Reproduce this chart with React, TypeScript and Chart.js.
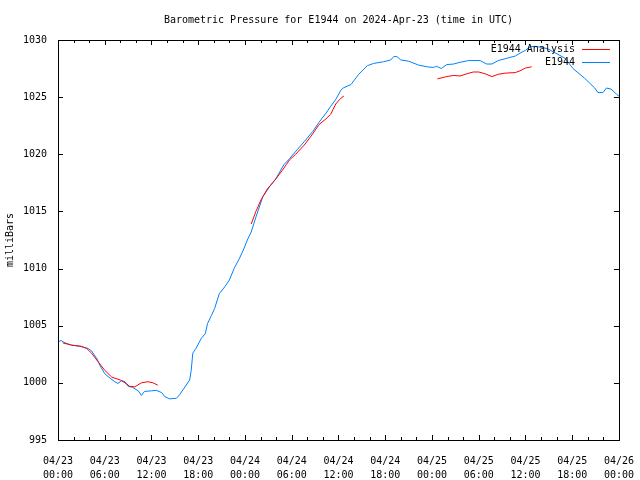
import React, { useEffect, useRef } from "react";
import { Chart, registerables } from "chart.js";

Chart.register(...registerables);

const chartTitle = "Barometric Pressure for E1944 on 2024-Apr-23 (time in UTC)";
const yAxisTitle = "milliBars";
const seriesLabels = ["E1944 Analysis", "E1944"];

const tickDates = ["04/23", "04/23", "04/23", "04/23", "04/24", "04/24", "04/24", "04/24", "04/25", "04/25", "04/25", "04/25", "04/26"];
const tickTimes = ["00:00", "06:00", "12:00", "18:00", "00:00", "06:00", "12:00", "18:00", "00:00", "06:00", "12:00", "18:00", "00:00"];

// hours since 2024-04-23 00:00 UTC
const obsHours = [
  0, 0.4, 0.9, 1.75, 2.8, 3.9, 4.3, 5.0, 5.4, 6.0, 6.7, 7.3, 7.7, 8.15, 8.6, 9.0, 9.6, 10.3, 10.7, 11.1,
  12.0, 12.6, 13.3, 13.7, 14.3, 15.2, 15.6, 16.2, 16.9, 17.1, 17.3, 17.7, 18.4, 18.9, 19.2, 19.7, 20.1, 20.7,
  21.4, 22.0, 22.6, 23.3, 23.9, 24.3, 24.8, 25.4, 26.3, 27.2, 28.0, 29.0, 29.7, 30.7, 31.6, 32.7, 33.5, 34.4,
  35.0, 35.65, 36.3, 36.6, 37.6, 38.6, 39.7, 40.5, 41.8, 42.7, 43.1, 43.5, 44.0, 45.0, 46.3, 47.4, 48.2, 48.6,
  49.2, 49.9, 50.8, 51.6, 52.7, 54.2, 55.0, 55.7, 56.5, 57.6, 58.7, 59.3, 60.0, 60.6, 61.2, 62.1, 62.8, 65.1,
  66.1, 67.6, 68.9, 69.3, 69.95, 70.4, 71.0, 71.7, 72.0
];
const obsPressure = [
  1003.6, 1003.7, 1003.5, 1003.3, 1003.2, 1003.0, 1002.8, 1002.1, 1001.5, 1000.8, 1000.4, 1000.1, 999.95, 1000.2, 1000.1, 999.7, 999.6, 999.3, 998.9, 999.25,
  999.3, 999.35, 999.15, 998.8, 998.6, 998.65, 998.95, 999.55, 1000.25, 1001.1, 1002.6, 1003.0, 1003.9, 1004.3, 1005.2, 1005.9, 1006.5, 1007.8,
  1008.4, 1009.0, 1010.0, 1010.9, 1011.8, 1012.5, 1013.2, 1014.5, 1016.3, 1017.2, 1017.9, 1019.1, 1019.6, 1020.4, 1021.1, 1022.0, 1022.8, 1023.6,
  1024.2, 1024.8, 1025.6, 1025.8, 1026.1, 1027.0, 1027.75, 1027.95, 1028.1, 1028.25, 1028.55, 1028.55, 1028.25, 1028.15, 1027.8, 1027.65, 1027.6, 1027.7,
  1027.5, 1027.85, 1027.9, 1028.05, 1028.2, 1028.2, 1027.9, 1027.9, 1028.2, 1028.4, 1028.6, 1028.85, 1029.1, 1029.4, 1029.45, 1029.35, 1029.25, 1028.4,
  1027.5, 1026.65, 1025.8, 1025.4, 1025.4, 1025.8, 1025.7, 1025.25, 1025.1
];

const analysisHours1 = [0.6, 1.75, 3.0, 3.7, 4.3, 5.2, 6.0, 6.9, 8.0, 8.6, 9.2, 9.85, 10.7, 11.55, 12.2, 12.8];
const analysisPressure1 = [1003.5, 1003.3, 1003.2, 1003.0, 1002.6, 1001.8, 1001.1, 1000.5, 1000.25, 1000.0, 999.7, 999.65, 1000.0, 1000.1, 1000.0, 999.8];
const analysisHours2 = [24.8, 25.4, 26.05, 26.9, 27.8, 28.8, 29.7, 30.5, 31.6, 32.6, 33.5, 34.4, 35.0, 35.65, 36.3, 36.7];
const analysisPressure2 = [1013.9, 1015.0, 1016.0, 1017.0, 1017.7, 1018.6, 1019.5, 1020.0, 1020.8, 1021.7, 1022.6, 1023.1, 1023.5, 1024.4, 1024.9, 1025.1];
const analysisHours3 = [48.7, 49.3, 49.9, 50.8, 51.6, 52.5, 53.3, 54.0, 54.8, 55.7, 56.5, 57.4, 58.7, 59.3, 60.0, 60.8];
const analysisPressure3 = [1026.6, 1026.7, 1026.8, 1026.9, 1026.85, 1027.05, 1027.2, 1027.2, 1027.05, 1026.8, 1027.0, 1027.1, 1027.15, 1027.3, 1027.55, 1027.65];

const FONT = "'DejaVu Sans Mono', 'Liberation Mono', monospace";
const RED = "#ff0000";
const BLUE = "#0080ff";

function toPoints(xs: number[], ys: number[]) {
  return xs.map((x, i) => ({ x, y: ys[i] }));
}

const gnuplotPlugin = {
  id: "gnuplotDecor",
  afterDraw(chart: any) {
    const ctx = chart.ctx;
    const area = chart.chartArea;
    const xs = chart.scales.x;
    const ys = chart.scales.y;
    ctx.save();
    ctx.strokeStyle = "#000";
    ctx.lineWidth = 1;
    ctx.strokeRect(Math.round(area.left) + 0.5, Math.round(area.top) + 0.5, Math.round(area.right - area.left), Math.round(area.bottom - area.top));
    ctx.beginPath();
    xs.ticks.forEach((t: any) => {
      const px = Math.round(xs.getPixelForValue(t.value)) + 0.5;
      const len = t.value % 6 === 0 ? 5 : 3;
      ctx.moveTo(px, area.bottom);
      ctx.lineTo(px, area.bottom - len);
      ctx.moveTo(px, area.top);
      ctx.lineTo(px, area.top + len);
    });
    ys.ticks.forEach((t: any) => {
      const py = Math.round(ys.getPixelForValue(t.value)) + 0.5;
      ctx.moveTo(area.left, py);
      ctx.lineTo(area.left + 5, py);
      ctx.moveTo(area.right, py);
      ctx.lineTo(area.right - 5, py);
    });
    ctx.stroke();

    ctx.fillStyle = "#000";
    ctx.font = "10px " + FONT;
    ctx.textAlign = "center";
    ctx.textBaseline = "middle";
    ctx.fillText(chartTitle, (area.left + area.right) / 2, 20);

    const rows = [
      { label: chart.data.datasets[0].label, color: chart.data.datasets[0].borderColor, y: 49.5 },
      { label: chart.data.datasets[1].label, color: chart.data.datasets[1].borderColor, y: 62.5 },
    ];
    rows.forEach((r) => {
      ctx.textAlign = "right";
      ctx.fillStyle = "#000";
      ctx.fillText(r.label, 575, r.y);
      ctx.strokeStyle = r.color;
      ctx.beginPath();
      ctx.moveTo(582, Math.floor(r.y) + 0.5);
      ctx.lineTo(610, Math.floor(r.y) + 0.5);
      ctx.stroke();
    });
    ctx.restore();
  },
};

export default function App() {
  const ref = useRef<HTMLCanvasElement | null>(null);
  useEffect(() => {
    if (!ref.current) return;
    const redData: any[] = [
      ...toPoints(analysisHours1, analysisPressure1),
      { x: 13.5, y: null },
      ...toPoints(analysisHours2, analysisPressure2),
      { x: 40, y: null },
      ...toPoints(analysisHours3, analysisPressure3),
    ];
    const chart = new Chart(ref.current, {
      type: "line",
      data: {
        datasets: [
          {
            label: seriesLabels[0],
            data: redData,
            borderColor: RED,
            borderWidth: 1,
            pointRadius: 0,
            tension: 0,
            spanGaps: false,
            order: 0,
          },
          {
            label: seriesLabels[1],
            data: toPoints(obsHours, obsPressure),
            borderColor: BLUE,
            borderWidth: 1,
            pointRadius: 0,
            tension: 0,
            order: 1,
          },
        ],
      },
      options: {
        responsive: false,
        animation: false,
        devicePixelRatio: 1,
        layout: { padding: { top: 40, right: 19, left: 0, bottom: 0 } },
        plugins: {
          legend: { display: false },
          title: { display: false },
          tooltip: { enabled: false },
        },
        scales: {
          x: {
            type: "linear",
            min: 0,
            max: 72,
            grid: { display: false },
            border: { display: false },
            afterFit: (s: any) => {
              s.height = 40;
            },
            ticks: {
              stepSize: 2,
              autoSkip: false,
              maxRotation: 0,
              padding: 6,
              color: "#000",
              font: { family: FONT, size: 10, lineHeight: 1.4 },
              callback: (v: any) => {
                const n = Number(v);
                if (n % 6 !== 0) return "";
                const i = n / 6;
                return [tickDates[i], tickTimes[i]];
              },
            },
          },
          y: {
            type: "linear",
            min: 995,
            max: 1030,
            grid: { display: false },
            border: { display: false },
            afterFit: (s: any) => {
              s.width = 58;
            },
            title: {
              display: true,
              text: yAxisTitle,
              color: "#000",
              font: { family: FONT, size: 10 },
              padding: { top: 4, bottom: 0 },
            },
            ticks: {
              stepSize: 5,
              padding: 3,
              color: "#000",
              font: { family: FONT, size: 10 },
              callback: (v: any) => String(Math.round(Number(v))),
            },
          },
        },
      },
      plugins: [gnuplotPlugin],
    });
    return () => chart.destroy();
  }, []);
  return (
    <div style={{ position: "absolute", left: 0, top: 0, width: 640, height: 480, background: "#fff" }}>
      <canvas ref={ref} width={640} height={480} />
    </div>
  );
}
